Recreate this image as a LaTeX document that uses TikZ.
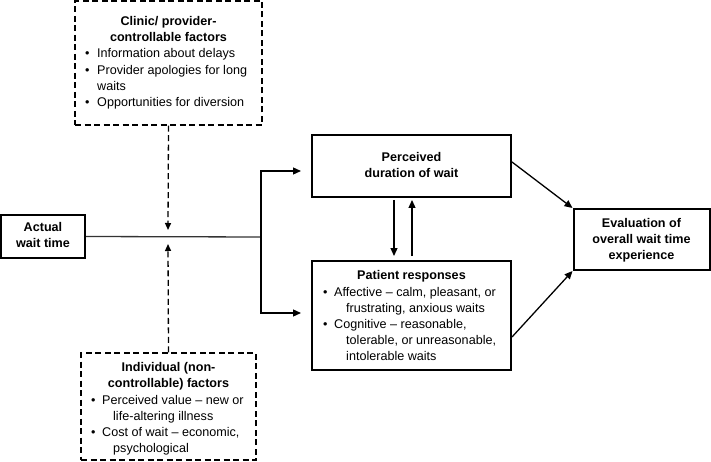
\documentclass[tikz,border=0pt]{standalone}
\usepackage{fontspec}
\setmainfont{Liberation Sans}
\usetikzlibrary{arrows.meta,calc}
\newcommand{\bul}[1]{\makebox[#1][l]{\textbullet}}
\tikzset{
  sbox/.style={draw, line width=2pt, inner sep=0pt},
  dbox/.style={draw, line width=1.3pt, dash pattern=on 6pt off 3.5pt, inner sep=0pt},
  ttl/.style={inner sep=0pt, font=\fontsize{12.6pt}{16pt}\selectfont\bfseries, align=center, anchor=base},
  txt/.style={inner sep=0pt, font=\fontsize{12.6pt}{16.2pt}\selectfont, align=left, anchor=base west},
  arr/.style={-{Triangle[length=8pt,width=7pt]}, line width=1.3pt},
  darr/.style={-{Triangle[length=7pt,width=6pt]}, line width=1.3pt, dash pattern=on 6pt off 3.5pt},
}
\begin{document}
\begin{tikzpicture}[x=1pt,y=-1pt]
\useasboundingbox (0,0) rectangle (711,462);
% boxes
\node[dbox, minimum width=187pt, minimum height=124pt] (clinic) at (168.5,63) {};
\node[sbox, minimum width=84pt, minimum height=43pt] (actual) at (43,236.5) {};
\node[sbox, minimum width=199pt, minimum height=62pt] (perc) at (411.5,166) {};
\node[sbox, minimum width=199pt, minimum height=109pt] (pat) at (411.5,315.5) {};
\node[sbox, minimum width=136pt, minimum height=61pt] (eval) at (641.5,239.5) {};
\node[dbox, minimum width=175pt, minimum height=107pt] (indiv) at (168.5,406.5) {};
% texts (anchor = baseline of last line)
\node[ttl] (clinicT) at (168.5,42) {Clinic/ provider-\\controllable factors};
\node[txt] (clinicL) at (84.8,106.6) {\bul{12.2pt}Information about delays\\
\bul{12.2pt}Provider apologies for long\\
\hspace*{12.2pt}waits\\
\bul{12.2pt}Opportunities for diversion};
\node[ttl] (actualT) at (43,247.5) {Actual\\wait time};
\node[ttl] (percT) at (411.5,177.5) {Perceived\\duration of wait};
\node[ttl] (evalT) at (641.5,259) {Evaluation of\\overall wait time\\experience};
\node[ttl] (patT) at (411.5,279) {Patient responses};
\node[txt] (patL) at (322.8,360.8) {\bul{11.2pt}Affective – calm, pleasant, or\\
\hspace*{23.2pt}frustrating, anxious waits\\
\bul{11.2pt}Cognitive – reasonable,\\
\hspace*{23.2pt}tolerable, or unreasonable,\\
\hspace*{23.2pt}intolerable waits};
\node[ttl] (indivT) at (168.5,387) {Individual (non-\\controllable) factors};
\node[txt] (indivL) at (90.8,452.6) {\bul{11.2pt}Perceived value – new or\\
\hspace*{22.2pt}life-altering illness\\
\bul{11.2pt}Cost of wait – economic,\\
\hspace*{22.2pt}psychological};
% connectors
\coordinate (J) at (261,237);
\coordinate (mtop) at (168,230);
\coordinate (mbot) at (168,244);
\draw[line width=1.3pt, black!80] (actual.east) -- (J);
\draw[arr, shorten >=10pt] (J) |- ($(perc.west)+(0,5)$);
\draw[arr, shorten >=10pt] (J) |- ($(pat.west)+(0,-2.5)$);
\draw[darr] (clinic.south) -- (mtop);
\draw[darr] (indiv.north) -- (mbot);
\draw[arr, shorten <=2pt, shorten >=4pt] ($(perc.south)+(-17.5,0)$) -- ($(pat.north)+(-17.5,0)$);
\draw[arr, shorten <=4pt, shorten >=2pt] ($(pat.north)+(0.5,0)$) -- ($(perc.south)+(0.5,0)$);
\draw[arr] ($(perc.east)+(0,-4)$) -- (eval.north west);
\draw[arr] ($(pat.east)+(0,21.5)$) -- (eval.south west);
\end{tikzpicture}
\end{document}
